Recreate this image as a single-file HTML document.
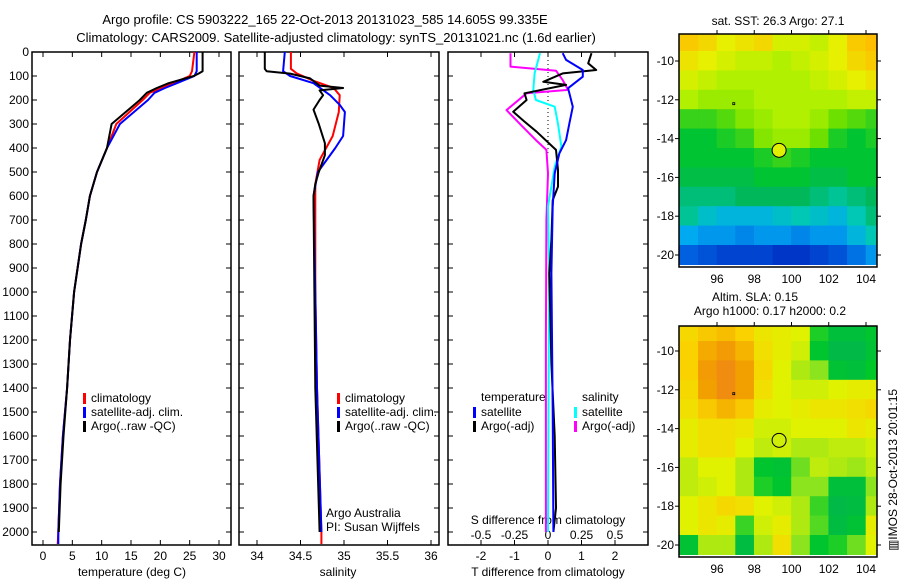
<!DOCTYPE html>
<html><head><meta charset="utf-8">
<style>
body{margin:0;background:#fff;}
svg{display:block;font-family:"Liberation Sans",sans-serif;}
text{font-size:12px;fill:#000;}
</style></head>
<body>
<svg id="fig" width="900" height="580" viewBox="0 0 900 580">
<rect width="900" height="580" fill="#fff"/>
<text x="325" y="24" text-anchor="middle" style="font-size:13px">Argo profile: CS 5903222_165 22-Oct-2013 20131023_585 14.605S 99.335E</text>
<text x="336" y="42" text-anchor="middle" style="font-size:13px">Climatology: CARS2009. Satellite-adjusted climatology: synTS_20131021.nc (1.6d earlier)</text>
<g id="layer"></g>
</svg>
<script>
// ---------- data ----------
const depthTicks=[0,100,200,300,400,500,600,700,800,900,1000,1100,1200,1300,1400,1500,1600,1700,1800,1900,2000];
const tempTicks=[0,5,10,15,20,25,30];
const salTicks=[34,34.5,35,35.5,36];
const tdiffTicks=[-2,-1,0,1,2];
const sdiffTicks=[-0.5,-0.25,0,0.25,0.5];
const sdiffLabels=["-0.5","-0.25","0","0.25","0.5"];

const tClimD=[0,80,100,130,150,170,200,300,400,500,600,700,800,900,1000,1200,1400,1600,1800,2000,2050];
const tClimV=[25.8,25.4,25.0,22.2,20.2,18.2,17.0,12.5,10.9,9.2,8.0,7.3,6.5,5.9,5.3,4.6,4.1,3.4,2.9,2.6,2.5];
const tSatV=[26.2,26.2,25.8,22.8,20.8,19.0,17.9,13.1,10.9,9.2,8.0,7.3,6.5,5.9,5.3,4.6,4.1,3.4,2.9,2.6,2.6];
const tArgoD=[0,80,90,100,130,150,170,200,300,400,500,600,700,800,900,1000,1200,1400,1600,1800,2000];
const tArgoV=[27.2,27.2,26.5,25.7,21.4,19.4,17.7,16.5,11.7,10.9,9.2,8.0,7.3,6.5,5.9,5.3,4.6,4.1,3.5,3.0,2.7];

const sArgoD=[0,70,80,90,110,140,150,160,180,200,240,300,380,430,500,550,600,1000,1400,2000];
const sArgoV=[34.09,34.09,34.11,34.38,34.61,34.72,34.99,34.72,34.76,34.72,34.65,34.71,34.78,34.78,34.71,34.67,34.65,34.66,34.67,34.72];
const sClimD=[0,70,90,120,150,180,250,350,450,550,700,1000,1400,2000,2050];
const sClimV=[34.39,34.39,34.46,34.65,34.88,34.95,34.94,34.87,34.72,34.67,34.67,34.67,34.69,34.74,34.74];
const sSatD=[0,80,100,130,180,220,250,350,400,450,500,600,1000,1400,2000];
const sSatV=[34.32,34.30,34.38,34.65,34.84,34.95,35.01,34.99,34.90,34.80,34.70,34.65,34.67,34.69,34.74];

const dTArgoD=[5,47,75,89,124,137,172,200,249,290,332,408,492,561,617,783,922,1300,1600,1900,2000];
const dTArgoV=[1.3,1.2,1.44,0.44,-0.14,0.54,-0.7,-0.64,-1.04,-0.7,-0.34,0.24,0.3,0.3,0.14,0.1,0.04,0.1,0.2,0.24,0.16];
const dTSatD=[5,33,75,103,151,228,297,367,422,506,644,922,1500,2000];
const dTSatV=[0.44,0.54,1.04,1.04,0.6,0.74,0.64,0.54,0.34,0.2,0.14,0.1,0.14,0.16];
const dSSatD=[5,89,158,200,228,297,394,478,644,922,1500,2000];
const dSSatV=[-0.06,-0.1,-0.11,-0.09,0.05,0.074,0.1,0.05,0,0.008,0.004,0];
const dSArgoD=[5,61,78,117,158,172,242,311,367,408,506,700,1200,2000];
const dSArgoV=[-0.28,-0.28,0.06,0.11,0.15,-0.16,-0.31,-0.19,-0.09,-0.012,0,-0.012,-0.016,-0.016];

const lonTicks=[96,98,100,102,104];
const latTicks=[-10,-12,-14,-16,-18,-20];
const gridLons=[94.5,95.5,96.5,97.5,98.5,99.5,100.5,101.5,102.5,103.5,104.5];
const gridLats=[-9,-10,-11,-12,-13,-14,-15,-16,-17,-18,-19,-20];
const sstGrid=[
[27.6,27.5,27.3,27.4,27.5,27.2,27.2,27.1,27.3,27.6,27.7],
[27.4,27.3,27.2,27.1,27.1,27.0,27.1,27.2,27.3,27.5,27.6],
[27.2,27.1,27.0,27.0,27.0,27.0,27.0,27.1,27.2,27.3,27.4],
[27.0,26.9,26.9,26.9,27.0,27.0,27.0,27.0,27.0,27.1,27.1],
[26.5,26.5,26.6,26.8,26.9,27.0,27.0,26.9,26.7,26.6,26.5],
[26.3,26.3,26.4,26.5,26.8,26.9,26.9,26.7,26.4,26.3,26.4],
[26.3,26.3,26.3,26.3,26.4,26.5,26.4,26.3,26.3,26.3,26.3],
[26.2,26.2,26.2,26.2,26.3,26.3,26.3,26.2,26.2,26.3,26.3],
[26.0,26.0,26.0,26.1,26.1,26.1,26.1,26.0,25.9,26.0,26.1],
[25.9,25.7,25.6,25.6,25.6,25.7,25.8,25.7,25.6,25.8,26.0],
[25.5,25.4,25.4,25.3,25.4,25.4,25.3,25.4,25.4,25.6,25.8],
[25.1,25.0,24.9,24.9,24.9,24.8,24.8,24.9,25.0,25.2,25.4]];
const slaGrid=[
[.19,.21,.22,.2,.17,.16,.15,.06,.02,.02,.04],
[.2,.24,.26,.23,.18,.16,.14,.04,.0,.0,.03],
[.2,.26,.29,.25,.19,.15,.12,.1,.03,.02,.05],
[.19,.25,.29,.25,.18,.15,.14,.14,.15,.16,.16],
[.18,.21,.23,.21,.16,.15,.16,.17,.17,.18,.19],
[.16,.18,.18,.17,.14,.14,.15,.15,.15,.17,.16],
[.16,.18,.18,.15,.13,.14,.12,.12,.13,.13,.14],
[.13,.15,.15,.12,.04,.03,.09,.13,.12,.11,.13],
[.13,.14,.15,.12,.06,.04,.1,.1,.02,.02,.1],
[.15,.17,.19,.18,.15,.14,.12,.07,.0,.01,.12],
[.15,.17,.16,.07,.14,.16,.12,.08,.01,.03,.16],
[.03,.12,.12,.01,.12,.18,.1,.04,.06,.09,.15]];
const floatLon=99.335, floatLat=-14.605;

// ---------- helpers ----------
const NS="http://www.w3.org/2000/svg";
const layer=document.getElementById('layer');
function mk(tag,attrs,parent){const e=document.createElementNS(NS,tag);for(const k in attrs)e.setAttribute(k,attrs[k]);(parent||layer).appendChild(e);return e;}
function txt(x,y,s,anchor,parent){const t=mk('text',{x:x,y:y,'text-anchor':anchor||'start'},parent);t.textContent=s;return t;}
const yD=d=>52+d*0.24;
const PBOT=545;
const xT=v=>43+v*5.867;
const xS=v=>257+(v-34)*87;
const xDT=v=>548+v*33.5;
const xDS=v=>548+v*134;

function panel(x0,x1,name){
  const g=mk('g',{});
  
  
  mk('rect',{x:x0,y:52,width:x1-x0,height:PBOT-52,fill:'none',stroke:'#000','stroke-width':1.5},g);
  depthTicks.forEach(d=>{mk('line',{x1:x0,x2:x0+5,y1:yD(d),y2:yD(d),stroke:'#000'},g);mk('line',{x1:x1-5,x2:x1,y1:yD(d),y2:yD(d),stroke:'#000'},g);});
  return g;
}
function xticks(g,ticks,fx,labels,ly){
  ticks.forEach((v,i)=>{const x=fx(v);mk('line',{x1:x,x2:x,y1:52,y2:57,stroke:'#000'},g);mk('line',{x1:x,x2:x,y1:PBOT-5,y2:PBOT,stroke:'#000'},g);
  if(labels){const t=txt(x,ly,labels[i],'middle',g);}});
}
function line(D,V,fx,color,name,w){
  const pts=D.map((d,i)=>fx(V[i]).toFixed(1)+','+yD(d).toFixed(1)).join(' ');
  const p=mk('polyline',{points:pts,fill:'none',stroke:color,'stroke-width':w||2,'stroke-linejoin':'round'});
  
  
}
function legend(x,y,color,label,name){
  const g=mk('g',{});
  
  
  mk('rect',{x:x,y:y-9,width:3,height:11,fill:color},g);
  if(label)txt(x+8,y,label,'start',g);
}

// ---------- panel 1: temperature ----------
const g1=panel(32,231,'temperature-panel');
xticks(g1,tempTicks,xT,tempTicks.map(String),560);
depthTicks.forEach(d=>{const t=txt(29,yD(d)+4,String(d),'end',g1);});
let tt=txt(132,576,'temperature (deg C)','middle',g1);
line(tClimD,tClimV,xT,'#f00','temp-climatology-line');
line(tClimD,tSatV,xT,'#00f','temp-satellite-line');
line(tArgoD,tArgoV,xT,'#000','temp-argo-line');
legend(83,402,'#f00','climatology','legend-climatology');
legend(83,416,'#00f','satellite-adj. clim.','legend-satellite');
legend(83,430,'#000','Argo(..raw -QC)','legend-argo');

// ---------- panel 2: salinity ----------
const g2=panel(239,439,'salinity-panel');
xticks(g2,salTicks,xS,salTicks.map(String),560);
tt=txt(338,576,'salinity','middle',g2);
line(sClimD,sClimV,xS,'#f00','sal-climatology-line');
line(sSatD,sSatV,xS,'#00f','sal-satellite-line');
line(sArgoD,sArgoV,xS,'#000','sal-argo-line');
legend(337,402,'#f00','climatology','legend-climatology');
legend(337,416,'#00f','satellite-adj. clim.','legend-satellite');
legend(337,430,'#000','Argo(..raw -QC)','legend-argo');
tt=txt(326,517,'Argo Australia','start',g2);
tt=txt(326,531,'PI: Susan Wijffels','start',g2);

// ---------- panel 3: differences ----------
const g3=panel(448,648,'difference-panel');
xticks(g3,tdiffTicks,xDT,tdiffTicks.map(String),560);
sdiffTicks.forEach((v,i)=>{const t=txt(xDS(v),539,sdiffLabels[i],'middle',g3);});
tt=txt(548,524,'S difference from climatology','middle',g3);
tt=txt(548,576,'T difference from climatology','middle',g3);
mk('line',{x1:548,x2:548,y1:52,y2:yD(420),stroke:'#000','stroke-dasharray':'1,3'},g3);
line(dSArgoD,dSArgoV,xDS,'#f0f','sdiff-argo-line');
line(dSSatD,dSSatV,xDS,'#0ff','sdiff-satellite-line');
line(dTArgoD,dTArgoV,xDT,'#000','tdiff-argo-line');
line(dTSatD,dTSatV,xDT,'#00f','tdiff-satellite-line');
tt=txt(481,401,'temperature','start',g3);
tt=txt(582,401,'salinity','start',g3);
legend(473,416,'#00f','satellite','legend-t-satellite');
legend(473,430,'#000','Argo(-adj)','legend-t-argo');
legend(574,416,'#0ff','satellite','legend-s-satellite');
legend(574,430,'#f0f','Argo(-adj)','legend-s-argo');

// ---------- maps ----------
function lerpColor(stops,v){
  if(v<=stops[0][0])return stops[0][1];
  for(let i=1;i<stops.length;i++){if(v<=stops[i][0]){const a=stops[i-1],b=stops[i];const t=(v-a[0])/(b[0]-a[0]);
    const c=a[1].map((x,k)=>Math.round(x+(b[1][k]-x)*t));return c;}}
  return stops[stops.length-1][1];
}
const sstStops=[[24.7,[0,40,190]],[25.1,[0,96,224]],[25.5,[0,170,240]],[25.8,[0,200,180]],[26.1,[0,184,90]],[26.3,[0,196,50]],[26.7,[110,224,0]],[27.0,[176,240,0]],[27.3,[230,240,0]],[27.7,[255,190,0]]];
const slaStops=[[0,[0,185,70]],[0.05,[0,200,40]],[0.1,[140,228,30]],[0.15,[225,242,0]],[0.2,[250,210,0]],[0.25,[242,160,0]],[0.3,[240,135,20]]];

function map(x0,y0,x1,y1,lat10y,lat20y,grid,stops,name,fillCircle){
  const g=mk('g',{});
  
  
  const fx=lon=>717+(lon-96)*18.625;
  const fy=lat=>lat10y+(lat+10)*(lat20y-lat10y)/-10;
  const clip='clip-'+name;
  const cp=mk('clipPath',{id:clip},g);mk('rect',{x:x0,y:y0,width:x1-x0,height:y1-y0},cp);
  const cg=mk('g',{'clip-path':'url(#'+clip+')'},g);
  gridLats.forEach((lat,r)=>gridLons.forEach((lon,c)=>{
    const col=lerpColor(stops,grid[r][c]);
    const cell=mk('rect',{x:fx(lon-0.5)-0.3,y:fy(lat+0.5)-0.3,width:fx(lon+0.5)-fx(lon-0.5)+0.6,height:fy(lat-0.5)-fy(lat+0.5)+0.6,fill:'rgb('+col.join(',')+')'},cg);
    
    
  }));
  mk('rect',{x:x0,y:y0,width:x1-x0,height:y1-y0,fill:'none',stroke:'#000','stroke-width':1.5},g);
  lonTicks.forEach(l=>{const x=fx(l);mk('line',{x1:x,x2:x,y1:y0-4,y2:y0,stroke:'#000'},g);txt(x,y1+16,String(l),'middle',g);});
  latTicks.forEach(l=>{const y=fy(l);mk('line',{x1:x1,x2:x1+4,y1:y,y2:y,stroke:'#000'},g);mk('line',{x1:x0-4,x2:x0,y1:y,y2:y,stroke:'#000'},g);txt(x0-5,y+4,String(l),'end',g);});
  const c=mk('circle',{cx:fx(floatLon),cy:fy(floatLat),r:7,fill:fillCircle,stroke:'#000','stroke-width':1},g);
  
  
  mk('rect',{x:fx(96.9)-1,y:fy(-12.2)-1,width:2,height:2,fill:'none',stroke:'#000','stroke-width':0.8},g);
}
map(679,34,877,267,61,255,sstGrid,sstStops,'sst-map','#e0f000');
map(679,326,877,557,351,545,slaGrid,slaStops,'sla-map','none');
tt=txt(778,25,'sat. SST: 26.3 Argo: 27.1','middle');
tt=txt(755,301,'Altim. SLA: 0.15','middle');
tt=txt(770,315,'Argo h1000: 0.17 h2000: 0.2','middle');
tt=txt(0,0,'\u25A5IMOS 28-Oct-2013 20:01:15','middle');tt.setAttribute('transform','translate(897,470) rotate(-90)');


</script>
</body></html>
